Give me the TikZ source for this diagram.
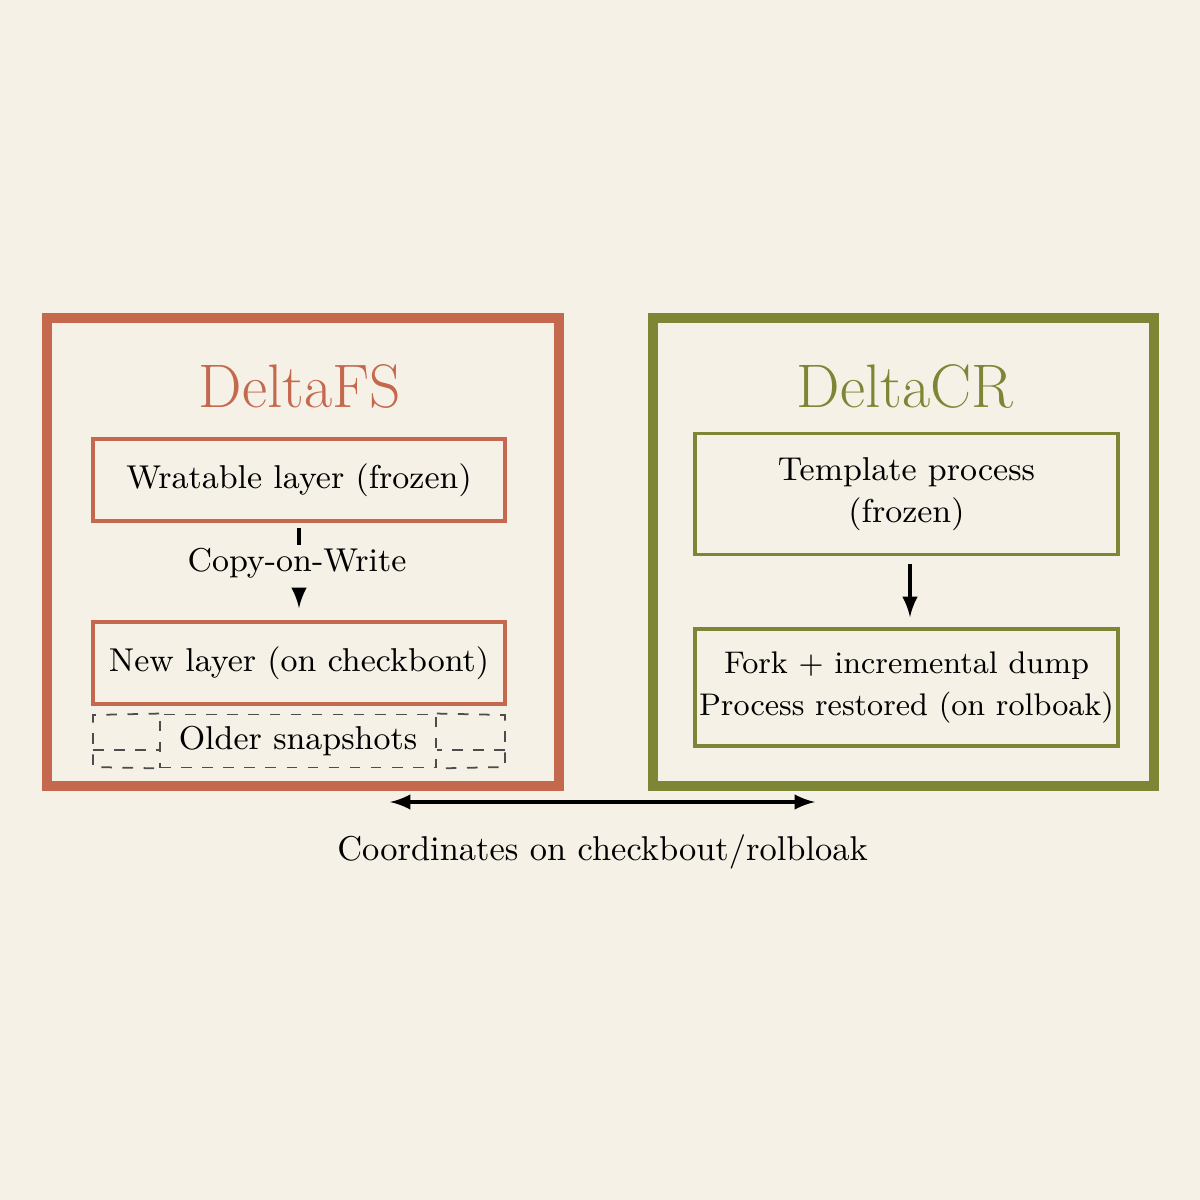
\documentclass[tikz,border=0pt]{standalone}
\usepackage{tikz}
\usetikzlibrary{calc,positioning}
\tikzset{>=latex}
\definecolor{bg}{HTML}{F5F1E6}
\definecolor{fsred}{HTML}{C4684E}
\definecolor{crgreen}{HTML}{7D8634}
\tikzset{
  outer/.style={draw, line width=2.8pt},
  body/.style={font=\fontsize{9.4}{12}\selectfont},
  layer/.style={body, draw, line width=1.1pt, inner sep=1pt, minimum height=0.82cm, minimum width=4.12cm, align=center},
  snap/.style={draw=black!70, dashed, line width=0.5pt},
  title/.style={font=\fontsize{17.5}{20}\selectfont}
}
\begin{document}
\begin{tikzpicture}
\fill[bg] (0,0) rectangle (12,12);
\useasboundingbox (0,0) rectangle (12,12);

\draw[outer, fsred] (0.47,4.14) rectangle (5.59,8.82);
\draw[outer, crgreen] (6.53,4.14) rectangle (11.54,8.82);

\node[title, text=fsred] (fs) at (3.00,8.13) {DeltaFS};
\node[title, text=crgreen] (cr) at (9.05,8.13) {DeltaCR};

\node[layer, draw=fsred] (wl) at (2.99,7.20) {Wratable layer (frozen)};
\node[layer, draw=fsred] (nl) at (2.99,5.37) {New layer (on checkbont)};
\node[body] (cow) at (2.97,6.37) {Copy-on-Write};
\draw[line width=1pt] (wl.south |- 0,6.72) -- (wl.south |- 0,6.55);
\draw[->,line width=1pt] ([yshift=0.02cm]cow.south -| nl.north) -- ([yshift=0.12cm]nl.north);

\node[snap, body, minimum width=2.76cm, minimum height=0.52cm] (old) at (2.98,4.59) {Older snapshots};
\draw[snap] (old.north west) -- (0.93,4.85) -- (0.93,4.33) -- (old.south west);
\draw[snap] (0.93,4.50) -- (old.west |- 0,4.50);
\draw[snap] (old.north east) -- (5.05,4.85) -- (5.05,4.33) -- (old.south east);
\draw[snap] (5.05,4.50) -- (old.east |- 0,4.50);

\node[layer, draw=crgreen, minimum width=4.23cm, minimum height=1.21cm] (tp) at (9.065,7.06) {Template process\\(frozen)};
\node[layer, draw=crgreen, font=\fontsize{8.9}{12}\selectfont, minimum width=4.23cm, minimum height=1.17cm] (fk) at (9.065,5.125) {Fork + incremental dump\\Process restored (on rolboak)};
\draw[->,line width=1pt] ([yshift=-0.08cm]tp.south -| 9.10,0) -- ([yshift=0.1cm]fk.north -| 9.10,0);

\coordinate (la) at (3.90,3.98);
\coordinate (ra) at (8.15,3.98);
\draw[<->,line width=1pt] (la) -- (ra);
\node[body, font=\fontsize{9.8}{12}\selectfont, below=0.2cm of $(la)!0.5!(ra)$] (coord) {Coordinates on checkbout/rolbloak};
\end{tikzpicture}
\end{document}
